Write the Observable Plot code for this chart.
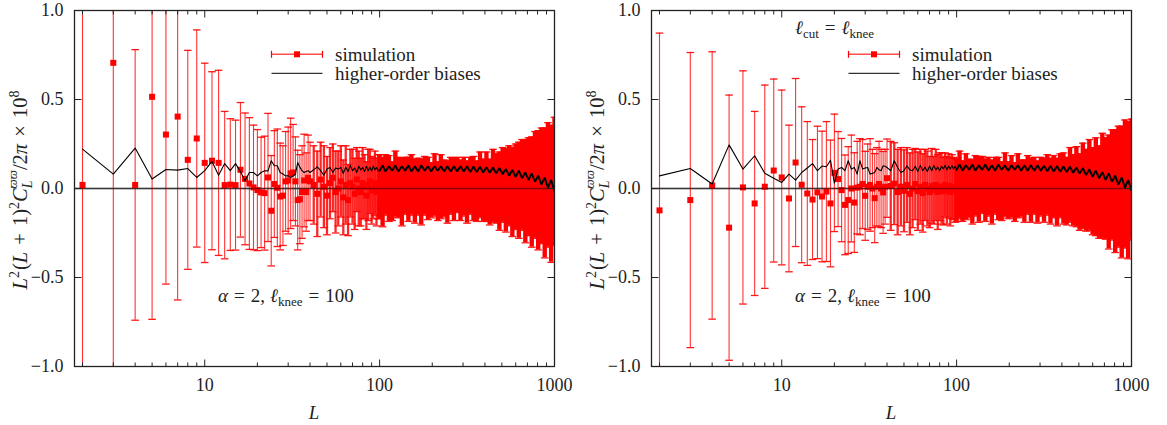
<!DOCTYPE html>
<html><head><meta charset="utf-8">
<script src="https://cdn.jsdelivr.net/npm/d3@7"></script>
<script src="https://cdn.jsdelivr.net/npm/@observablehq/plot@0.6"></script>
<style>
html,body{margin:0;padding:0;background:#fff;}
#wrap{position:relative;width:1167px;height:425px;overflow:hidden;background:#fff;}
#wrap svg{position:absolute;top:0;}
</style></head><body><div id="wrap"></div>
<script>
// multipole L (shared by both panels)
const L_lo = [2,3,4,5,6,7,8,9,10,11,12,13,14,15,16,17,18,19,20,21,22,23,24,25,26,27,28,29,30,31,32,33,34,35,36,37,38,39,40];
const L_mid = [42,44,46,48,50,52,54,56,58,60,62,64,66,68,70,72,74,76,78,80,82,84,86,88,90,92,94,96,98];
const L_hi = [100,104,108,113,118,123,128,134,140,146,152,159,166,173,181,189,197,206,215,224,234,244,255,266,278,290,303,316,330,344,359,375,391,408,426,445,464,484,505,527,550,574,599,625,652,681,710,741,773,807,842,879,917,957,1000];

// left panel: simulation value, error bar half-width, higher-order biases
const simLeft_lo = [0.02,0.706,0.02,0.515,0.303,0.404,0.161,0.281,0.144,0.156,0.144,0.019,0.022,0.019,0.105,0.054,0.028,0.006,-0.009,-0.022,-0.026,0.062,-0.125,0.025,0.004,-0.045,-0.04,0.04,0.045,0.085,0.09,0.04,-0.065,-0.06,-0.02,0.045,-0.02,0.06,0.04];
const errLeft_lo = [1.6,2.0,0.76,1.25,0.84,1.03,0.615,0.61,0.56,0.50,0.52,0.414,0.37,0.365,0.378,0.37,0.37,0.35,0.34,0.31,0.32,0.36,0.31,0.30,0.33,0.30,0.28,0.28,0.30,0.31,0.27,0.25,0.28,0.25,0.26,0.26,0.22,0.24,0.22];
const biasLeft_lo = [0.221,0.081,0.227,0.053,0.107,0.103,0.112,0.062,0.10,0.152,0.075,0.14,0.10,0.14,0.095,0.043,0.09,0.09,0.071,0.09,0.10,0.099,0.156,0.128,0.128,0.09,0.081,0.071,0.071,0.062,0.07,0.081,0.146,0.12,0.10,0.09,0.095,0.10,0.09];
const simLeft_mid = [0.02,-0.03,0.05,0.01,-0.04,0.03,0.06,-0.02,0.00,0.04,-0.05,0.02,-0.065,0.03,0.01,-0.03,0.05,0.00,-0.02,0.03,0.01,-0.04,0.02,0.04,-0.01,0.00,0.03,-0.02,0.01];
const errLeft_mid = [0.22,0.24,0.21,0.23,0.22,0.20,0.19,0.23,0.21,0.20,0.21,0.22,0.20,0.19,0.21,0.20,0.18,0.21,0.19,0.20,0.18,0.19,0.20,0.18,0.19,0.17,0.18,0.19,0.18];
const biasLeft_mid = [0.105,0.122,0.10,0.075,0.109,0.118,0.09,0.115,0.109,0.118,0.085,0.12,0.095,0.13,0.10,0.115,0.09,0.125,0.105,0.118,0.095,0.125,0.10,0.12,0.098,0.125,0.105,0.118,0.10];
const simLeft_hi = [0.01,-0.02,0.02,0.0,-0.015,0.025,0.005,-0.02,0.015,-0.005,0.02,-0.015,0.01,-0.02,0.015,0.0,-0.01,0.02,-0.015,0.01,0.0,-0.02,0.015,-0.005,0.02,-0.01,0.01,-0.02,0.015,0.0,-0.015,0.02,-0.01,0.01,-0.02,0.015,0.0,-0.015,0.02,-0.01,0.015,-0.02,0.01,-0.01,0.02,-0.015,0.01,-0.02,0.02,-0.01,0.015,-0.025,0.02,-0.03,0.04];
const errLeft_hi = [0.18,0.195,0.17,0.185,0.165,0.185,0.17,0.19,0.16,0.18,0.17,0.18,0.16,0.185,0.165,0.175,0.155,0.175,0.165,0.18,0.16,0.175,0.16,0.175,0.155,0.17,0.165,0.175,0.16,0.18,0.17,0.185,0.175,0.195,0.185,0.205,0.195,0.22,0.21,0.235,0.225,0.25,0.24,0.27,0.255,0.29,0.275,0.31,0.3,0.335,0.325,0.365,0.35,0.385,0.36];
const biasLeft_hi = [0.10,0.13,0.095,0.125,0.1,0.13,0.095,0.125,0.1,0.13,0.095,0.125,0.095,0.13,0.1,0.125,0.095,0.125,0.1,0.125,0.095,0.125,0.095,0.125,0.095,0.125,0.095,0.125,0.093,0.123,0.092,0.122,0.09,0.12,0.088,0.118,0.085,0.115,0.08,0.11,0.072,0.105,0.065,0.1,0.058,0.09,0.048,0.085,0.038,0.072,0.022,0.062,0.005,0.048,-0.015];

// right panel (l_cut = l_knee)
const simRight_lo = [-0.123,-0.065,0.017,-0.22,0.006,-0.084,0.01,0.101,0.062,-0.056,0.146,0.021,-0.028,-0.062,-0.022,-0.045,-0.017,-0.084,0.088,0.053,-0.009,-0.092,-0.065,0.0,-0.079,0.005,0.01,0.025,-0.041,0.01,0.02,0.0,-0.054,0.01,0.025,0.0,-0.022,0.01,0.058];
const errRight_lo = [0.996,0.829,0.751,0.745,0.655,0.517,0.571,0.514,0.491,0.412,0.472,0.438,0.404,0.337,0.372,0.367,0.393,0.356,0.33,0.267,0.29,0.28,0.30,0.30,0.28,0.26,0.27,0.25,0.25,0.24,0.26,0.22,0.25,0.22,0.24,0.22,0.23,0.21,0.22];
const biasRight_lo = [0.071,0.112,0.025,0.245,0.109,0.184,0.086,0.058,0.034,0.081,0.047,0.09,0.115,0.14,0.1,0.126,0.122,0.159,0.03,0.109,0.118,0.1,0.156,0.109,0.118,0.081,0.156,0.109,0.115,0.118,0.081,0.085,0.09,0.118,0.105,0.10,0.128,0.125,0.118];
const simRight_mid = [0.015,0.027,-0.02,0.01,-0.013,0.02,-0.03,0.0,0.025,-0.015,0.01,-0.025,0.02,0.0,-0.02,0.015,-0.01,0.02,-0.02,0.01,0.0,-0.015,0.02,-0.01,0.015,-0.02,0.01,0.0,-0.01];
const errRight_mid = [0.25,0.23,0.24,0.22,0.23,0.21,0.23,0.22,0.20,0.22,0.21,0.22,0.20,0.21,0.20,0.21,0.19,0.20,0.21,0.19,0.20,0.19,0.18,0.19,0.18,0.19,0.18,0.175,0.18];
const biasRight_mid = [0.1,0.156,0.118,0.09,0.10,0.128,0.105,0.10,0.125,0.095,0.13,0.1,0.12,0.095,0.125,0.1,0.13,0.105,0.12,0.1,0.125,0.11,0.13,0.105,0.125,0.11,0.13,0.11,0.125];
const simRight_hi = [-0.01,0.02,-0.015,0.01,0.0,-0.02,0.015,-0.005,0.02,-0.01,0.01,-0.02,0.015,0.0,-0.015,0.02,-0.01,0.01,-0.02,0.015,0.0,-0.015,0.02,-0.01,0.015,-0.02,0.01,-0.01,0.02,-0.015,0.01,-0.02,0.015,0.0,-0.015,0.02,-0.01,0.01,-0.02,0.015,-0.01,0.02,-0.015,0.01,-0.02,0.015,0.0,-0.02,0.02,-0.015,0.01,-0.02,0.025,-0.01,0.05];
const errRight_hi = [0.175,0.19,0.17,0.185,0.165,0.18,0.17,0.185,0.16,0.175,0.165,0.18,0.16,0.175,0.165,0.18,0.16,0.175,0.165,0.18,0.16,0.175,0.165,0.18,0.16,0.175,0.165,0.18,0.17,0.185,0.175,0.19,0.18,0.2,0.19,0.21,0.2,0.225,0.215,0.24,0.23,0.255,0.245,0.275,0.26,0.295,0.285,0.32,0.31,0.345,0.34,0.37,0.36,0.385,0.34];
const biasRight_hi = [0.105,0.135,0.1,0.13,0.105,0.135,0.1,0.13,0.105,0.135,0.1,0.13,0.1,0.135,0.105,0.13,0.1,0.13,0.105,0.13,0.1,0.13,0.1,0.13,0.1,0.13,0.1,0.128,0.097,0.127,0.096,0.126,0.094,0.124,0.092,0.122,0.088,0.118,0.084,0.114,0.075,0.108,0.066,0.1,0.058,0.092,0.048,0.085,0.038,0.072,0.022,0.062,0.005,0.048,-0.012];

// axis ticks
const yTicks = [-1, -0.5, 0, 0.5, 1];
const yInner = [-0.5, 0, 0.5];
const xMajor = [10, 100, 1000];
const xMinor = [2,3,4,5,6,7,8,9,20,30,40,50,60,70,80,90,200,300,400,500,600,700,800,900];

const L = [...L_lo, ...L_mid, ...L_hi];
const FONT = "'Liberation Serif', 'DejaVu Serif', serif";
const RED = "#ff0000";

const capSym = {draw(ctx){ ctx.moveTo(-3.8,0); ctx.lineTo(3.8,0); }};
const seg = (dx, dy) => ({draw(ctx){ ctx.moveTo(0,0); ctx.lineTo(dx,dy); }});

function panel({sim, err, bias, width, ml, mr}) {
  const rows = L.map((l, i) => ({L: l, v: sim[i], e: err[i], b: bias[i], band: l <= 40 ? 0 : (l < 100 ? 1 : 2)}));
  const styles = [{w: 1.1, o: 0.8}, {w: 2.3, o: 0.85}, {w: 4.4, o: 1}];
  const marks = [];
  marks.push(Plot.ruleY([0], {stroke: "#000", strokeOpacity: 0.6, strokeWidth: 1.5}));
  styles.forEach((s, k) => {
    marks.push(Plot.ruleX(rows.filter(r => r.band === k), {x: "L", y1: r => r.v - r.e, y2: r => r.v + r.e, stroke: RED, strokeWidth: s.w, strokeOpacity: s.o, clip: true}));
  });
  marks.push(Plot.dot(rows, {x: "L", y: r => r.v + r.e, symbol: capSym, stroke: RED, fill: "none", strokeWidth: 1.3, strokeOpacity: 0.9, clip: true}));
  marks.push(Plot.dot(rows, {x: "L", y: r => r.v - r.e, symbol: capSym, stroke: RED, fill: "none", strokeWidth: 1.3, strokeOpacity: 0.9, clip: true}));
  marks.push(Plot.dot(rows, {x: "L", y: "v", symbol: "square", fill: RED, r: 3.4, clip: true}));
  marks.push(Plot.line(rows.filter(r => r.L <= 100), {x: "L", y: "b", stroke: "#000", strokeWidth: 1.1, clip: true}));
  marks.push(Plot.line(rows.filter(r => r.L >= 100), {x: "L", y: "b", stroke: "#000", strokeWidth: 1.9, strokeLinejoin: "miter", clip: true}));
  marks.push(Plot.ruleY([0], {stroke: "#000", strokeOpacity: 0.45, strokeWidth: 1.5}));
  // inward ticks
  marks.push(Plot.dot(xMajor, {x: d => d, frameAnchor: "bottom", symbol: seg(0, -7), stroke: "#222", fill: "none", strokeWidth: 1}));
  marks.push(Plot.dot(xMajor, {x: d => d, frameAnchor: "top", symbol: seg(0, 7), stroke: "#222", fill: "none", strokeWidth: 1}));
  marks.push(Plot.dot(xMinor, {x: d => d, frameAnchor: "bottom", symbol: seg(0, -4), stroke: "#222", fill: "none", strokeWidth: 1}));
  marks.push(Plot.dot(xMinor, {x: d => d, frameAnchor: "top", symbol: seg(0, 4), stroke: "#222", fill: "none", strokeWidth: 1}));
  marks.push(Plot.dot(yInner, {y: d => d, frameAnchor: "left", symbol: seg(7, 0), stroke: "#222", fill: "none", strokeWidth: 1}));
  marks.push(Plot.dot(yInner, {y: d => d, frameAnchor: "right", symbol: seg(-7, 0), stroke: "#222", fill: "none", strokeWidth: 1}));
  marks.push(Plot.frame({stroke: "#222", strokeWidth: 1.3}));
  marks.push(Plot.axisY({ticks: yTicks, tickSize: 0, tickPadding: 11, label: null, tickFormat: d => d3.format(".1f")(d).replace("-", "\u2212")}));
  marks.push(Plot.axisX({ticks: xMajor, tickSize: 0, tickPadding: 12, label: null, tickFormat: d => String(d)}));
  return Plot.plot({
    width, height: 425,
    marginLeft: ml, marginRight: mr, marginTop: 10, marginBottom: 59,
    x: {type: "log", domain: [1.8, 1000]},
    y: {domain: [-1, 1]},
    style: {fontFamily: FONT, fontSize: "18px", color: "#222", background: "transparent"},
    marks
  });
}

function addText(svg, x, y, parts, opts = {}) {
  const t = d3.select(svg).append("text")
    .attr("x", x).attr("y", y)
    .attr("font-family", FONT).attr("font-size", opts.size || 19)
    .attr("fill", "#222")
    .attr("text-anchor", opts.anchor || "start");
  if (opts.transform) t.attr("transform", opts.transform).attr("x", 0).attr("y", 0);
  for (const p of parts) {
    const s = t.append("tspan").text(p.t);
    if (p.i) s.attr("font-style", "italic");
    if (p.fs) s.attr("font-size", p.fs);
    if (p.dx != null) s.attr("dx", p.dx);
    if (p.dy != null) s.attr("dy", p.dy);
  }
  return t;
}

function decorate(svg, {cut}) {
  const g = d3.select(svg);
  // y label
  addText(svg, 0, 0, [
    {t: "L", i: true}, {t: "2", fs: 14, dy: -8}, {t: "(", dy: 8, dx: 1}, {t: "L", i: true}, {t: " + ", dx: 2}, {t: "1)", dx: 2},
    {t: "2", fs: 14, dy: -8}, {t: "C", i: true, dy: 8}, {t: "L", i: true, fs: 14, dy: 5},
    {t: "ϖϖ", i: true, fs: 13, dx: -8, dy: -15}, {t: "/2", dy: 10}, {t: "π", i: true}, {t: " × ", dx: 2}, {t: "10", dx: 2}, {t: "8", fs: 14, dy: -8}
  ], {anchor: "middle", size: 20.5, transform: "translate(27,190) rotate(-90)"});
  // x label
  addText(svg, 314, 419, [{t: "L", i: true}], {anchor: "middle"});
  // annotation
  addText(svg, 218, 302, [{t: "α", i: true}, {t: "=", dx: 6}, {t: "2,", dx: 6}, {t: "ℓ", i: true, dx: 5}, {t: "knee", fs: 13, dy: 4}, {t: "=", dy: -4, dx: 6}, {t: "100", dx: 6}]);
  if (cut) {
    addText(svg, 218, 34, [{t: "ℓ", i: true}, {t: "cut", fs: 13, dy: 4}, {t: "=", dy: -4, dx: 6}, {t: "ℓ", i: true, dx: 6}, {t: "knee", fs: 13, dy: 4}]);
  }
  // legend
  const x1 = 271.5, x2 = 322.5, y1 = 54.3, y2 = 73.3;
  g.append("line").attr("x1", x1).attr("x2", x2).attr("y1", y1).attr("y2", y1).attr("stroke", RED).attr("stroke-opacity", 0.7).attr("stroke-width", 1.4);
  for (const x of [x1, x2]) g.append("line").attr("x1", x).attr("x2", x).attr("y1", y1 - 3.5).attr("y2", y1 + 3.5).attr("stroke", RED).attr("stroke-width", 1.2);
  g.append("rect").attr("x", (x1 + x2) / 2 - 3).attr("y", y1 - 3).attr("width", 6).attr("height", 6).attr("fill", RED);
  g.append("line").attr("x1", x1).attr("x2", x2).attr("y1", y2).attr("y2", y2).attr("stroke", "#000").attr("stroke-width", 1);
  addText(svg, 335, 60.5, [{t: "simulation"}]);
  addText(svg, 335, 79.5, [{t: "higher-order biases"}]);
}

const wrap = document.getElementById("wrap");
const left = panel({sim: [...simLeft_lo, ...simLeft_mid, ...simLeft_hi], err: [...errLeft_lo, ...errLeft_mid, ...errLeft_hi], bias: [...biasLeft_lo, ...biasLeft_mid, ...biasLeft_hi], width: 577, ml: 74, mr: 23});
decorate(left, {cut: false});
left.style.left = "0px";
wrap.appendChild(left);
const right = panel({sim: [...simRight_lo, ...simRight_mid, ...simRight_hi], err: [...errRight_lo, ...errRight_mid, ...errRight_hi], bias: [...biasRight_lo, ...biasRight_mid, ...biasRight_hi], width: 590, ml: 74, mr: 36});
decorate(right, {cut: true});
right.style.left = "577px";
wrap.appendChild(right);
</script></body></html>
